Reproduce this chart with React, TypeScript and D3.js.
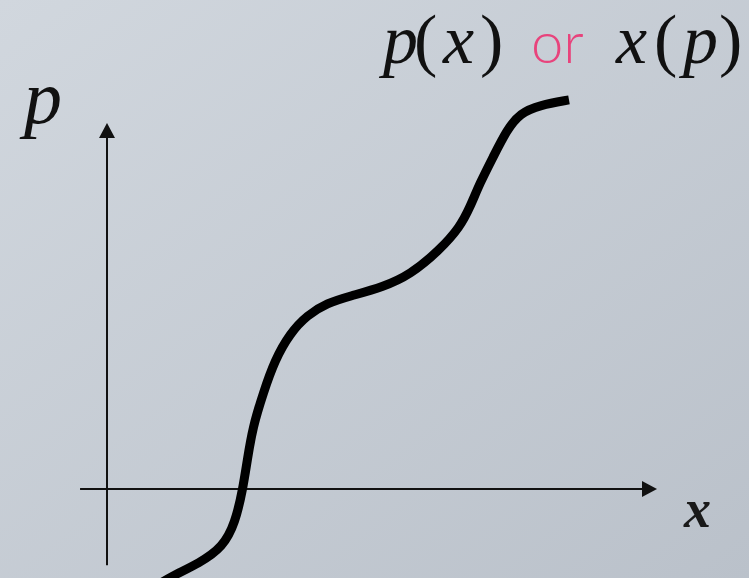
import React from "react";
import * as d3 from "d3";

// points, x and p on a 0..100 scale
const curveX = [9.3, 11.5, 16.9, 21.1, 23.3, 24.7, 25.5, 26.5, 28.4, 30.5, 33.3, 36.4, 40.0, 44.2, 50.2, 55.1, 60.5, 64.2, 66.0, 67.8, 70.2, 72.7, 75.1, 78.7, 84.0];
const curveP = [-26.2, -24.0, -20.2, -15.8, -9.3, 0, 7.9, 16.9, 26.2, 35.2, 42.6, 47.5, 50.8, 52.7, 55.2, 58.5, 65.3, 71.6, 77.0, 83.6, 90.7, 98.1, 102.7, 104.9, 106.3];

const xAxisRange = [-4.9, 100];
const pAxisRange = [-20.8, 100];

const width = 749;
const height = 578;

const serif = "'Liberation Serif', 'Times New Roman', serif";
const ink = "#111";
const headLen = 15;
const headHalf = 8;

const App = () => {
  const x = d3.scaleLinear().domain([0, 100]).range([107, 657]);
  const y = d3.scaleLinear().domain([0, 100]).range([489, 123]);

  const pts = curveX.map((v, i) => [v, curveP[i]] as [number, number]);
  const line = d3.line<[number, number]>()
    .x(d => x(d[0]))
    .y(d => y(d[1]))
    .curve(d3.curveBasis);

  const xEnd = x(xAxisRange[1]);
  const yEnd = y(pAxisRange[1]);

  // each glyph of the title placed on its own
  const piece = (s: string, px: number, it: boolean) => (
    <text x={px} y={63} fontSize={70} fill={ink} style={{ fontFamily: serif, fontStyle: it ? "italic" : "normal" }}>{s}</text>
  );

  return (
    <svg width={width} height={height} style={{ position: "fixed", left: 0, top: 0 }}>
      <defs>
        <linearGradient id="bg" x1="0" y1="0" x2="1" y2="1">
          <stop offset="0" stopColor="#d1d7de" />
          <stop offset="1" stopColor="#bac1ca" />
        </linearGradient>
      </defs>
      <rect width={width} height={height} fill="url(#bg)" />

      {/* axe horizontal */}
      <line x1={x(xAxisRange[0])} x2={xEnd - headLen + 1} y1={y(0)} y2={y(0)} stroke={ink} strokeWidth={2} />
      <path d={`M${xEnd},${y(0)} L${xEnd - headLen},${y(0) - headHalf} L${xEnd - headLen},${y(0) + headHalf} Z`} fill={ink} />

      {/* axe vertical */}
      <line x1={x(0)} x2={x(0)} y1={y(pAxisRange[0])} y2={yEnd + headLen - 1} stroke={ink} strokeWidth={2} />
      <path d={`M${x(0)},${yEnd} L${x(0) - headHalf},${yEnd + headLen} L${x(0) + headHalf},${yEnd + headLen} Z`} fill={ink} />

      {/* la courbe */}
      <path d={line(pts) ?? ""} fill="none" stroke="#000" strokeWidth={9} strokeLinejoin="round" />

      <text x={24} y={123} fontSize={76} fill={ink} style={{ fontFamily: serif, fontStyle: "italic" }}>p</text>
      <text x={684} y={527} fontSize={54} fill="#1a1a1a" style={{ fontFamily: serif, fontStyle: "italic", fontWeight: "bold" }}>x</text>

      {piece("p", 383, true)}
      {piece("(", 414, false)}
      {piece("x", 443, true)}
      {piece(")", 480, false)}
      <text x={531} y={63} fontSize={58} fill="#e8437c" style={{ fontFamily: "'Lato', 'Noto Sans', sans-serif", fontWeight: 300 }}>or</text>
      {piece("x", 616, true)}
      {piece("(", 654, false)}
      {piece("p", 683, true)}
      {piece(")", 719, false)}
    </svg>
  );
};

export default App;
